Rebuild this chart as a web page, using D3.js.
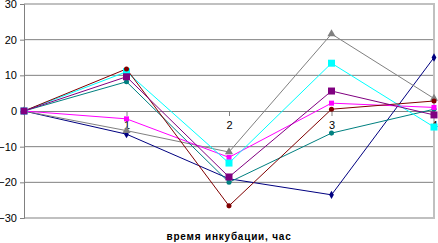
<!doctype html>
<html>
<head>
	<meta charset="utf-8">
	<title>Chart</title>
	<script src="https://d3js.org/d3.v7.min.js"></script>
	<style>
		body { margin: 0; background: #fff; }
		text { font-family: Arial, "Liberation Sans", sans-serif; }
	</style>
</head>
<body>
	<script>
		var categories = [0, 1, 2, 3, 4];
		var xLabels = ["", "1", "2", "3", "4"];
		var yTicks = [-30, -20, -10, 0, 10, 20, 30];

		var navy    = [0, -6.5, -19, -23.5, 15];
		var gray    = [0, -5.5, -11.5, 21.6, 3.5];
		var teal    = [0, 8.2, -20, -6.2, 0.5];
		var magenta = [0, -2.2, -13, 2.2, 1];
		var cyan    = [0, 11, -14.6, 13.4, -4.5];
		var darkred = [0, 11.8, -26.6, 0.5, 2.8];
		var purple  = [0, 9.6, -18.5, 5.6, -1.1];

		var series = [
			{ values: navy, color: "#000080", marker: "diamond", size: 5 },
			{ values: gray, color: "#808080", marker: "triangle", size: 6 },
			{ values: teal, color: "#008080", marker: "circle", size: 5 },
			{ values: magenta, color: "#ff00ff", marker: "square", size: 5 },
			{ values: cyan, color: "#00ffff", marker: "square", size: 7 },
			{ values: darkred, color: "#800000", marker: "circle", size: 5 },
			{ values: purple, color: "#800080", marker: "square", size: 7 }
		];

		var width = 438;
		var height = 243;
		var plotLeft = 24, plotRight = 434, plotTop = 4, plotBottom = 218;

		var x = d3.scalePoint()
			.domain(categories)
			.range([plotLeft, plotRight]);

		var y = d3.scaleLinear()
			.domain([-30, 30])
			.range([plotBottom, plotTop]);

		var svg = d3.select("body")
			.append("svg")
			.attr("width", width)
			.attr("height", height);

		// gridlines
		svg.selectAll("line.grid")
			.data(yTicks.filter(function(d) { return d > -30 && d < 30 && d != 0; }))
			.enter()
				.append("line")
				.attr("x1", plotLeft)
				.attr("x2", plotRight)
				.attr("y1", function(d) { return y(d); })
				.attr("y2", function(d) { return y(d); })
				.attr("stroke", "#808080")
				.attr("stroke-width", 1);

		// plot border (top, right, bottom)
		svg.append("path")
			.attr("d", "M" + plotLeft + "," + y(30) + "H" + plotRight + "V" + y(-30) + "H" + plotLeft)
			.attr("fill", "none")
			.attr("stroke", "#c0c0c0")
			.attr("stroke-width", 2);

		// y axis
		var yAxis = d3.axisLeft(y)
			.tickValues(yTicks)
			.tickSize(4)
			.tickPadding(3);

		var gy = svg.append("g")
			.attr("transform", "translate(" + plotLeft + ",0)")
			.call(yAxis);
		gy.select(".domain").attr("stroke", "#808080");
		gy.selectAll(".tick line").attr("stroke", "#808080");
		gy.selectAll("text").attr("font-size", 11).attr("fill", "#000");

		// x axis at zero
		var xAxis = d3.axisBottom(x)
			.tickFormat(function(d, i) { return xLabels[i]; })
			.tickSizeInner(5)
			.tickSizeOuter(0)
			.tickPadding(5);

		var gx = svg.append("g")
			.attr("transform", "translate(0," + y(0) + ")")
			.call(xAxis);
		gx.select(".domain").attr("stroke", "#808080");
		gx.selectAll(".tick line").attr("stroke", "#808080");
		gx.selectAll("text").attr("font-size", 11).attr("fill", "#000");

		var line = d3.line()
			.x(function(d, i) { return x(categories[i]); })
			.y(function(d) { return y(d); });

		var symbols = {
			diamond: d3.symbolDiamond,
			triangle: d3.symbolTriangle,
			circle: d3.symbolCircle,
			square: d3.symbolSquare
		};

		series.forEach(function(s) {
			svg.append("path")
				.attr("d", line(s.values))
				.attr("fill", "none")
				.attr("stroke", s.color)
				.attr("stroke-width", 1);
		});

		series.forEach(function(s) {
			var sym = d3.symbol()
				.type(symbols[s.marker])
				.size(s.marker == "square" ? s.size * s.size : s.size * s.size * 0.8);
			svg.selectAll(null)
				.data(s.values)
				.enter()
					.append("path")
					.attr("d", sym)
					.attr("transform", function(d, i) { return "translate(" + x(categories[i]) + "," + y(d) + ")"; })
					.attr("fill", s.color);
		});

		svg.append("text")
			.attr("x", 229)
			.attr("y", 240)
			.attr("text-anchor", "middle")
			.attr("font-size", 10)
			.attr("font-weight", "bold")
			.attr("letter-spacing", 0.8)
			.text("время инкубации, час");
	</script>
</body>
</html>
